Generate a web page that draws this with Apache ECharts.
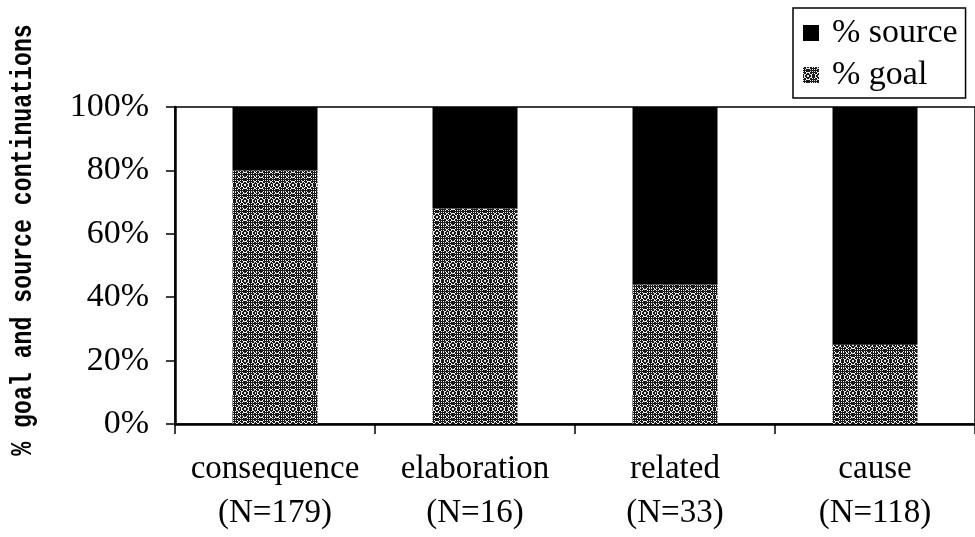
<!DOCTYPE html>
<html>
<head>
<meta charset="utf-8">
<style>
  html, body { margin: 0; padding: 0; background: #fff; }
  #chart { width: 975px; height: 537px; }
</style>
<script src="https://cdn.jsdelivr.net/npm/echarts@6/dist/echarts.min.js"></script>
</head>
<body>
<div id="chart"></div>
<script>
// Relation types and number of continuations per type
const categories = ['consequence', 'elaboration', 'related', 'cause'];
const counts = [179, 16, 33, 118];
// Percentage of goal and source continuations
const goalPct = [80, 68, 44, 25];
const sourcePct = [20, 32, 56, 75];
const yTicks = [0, 20, 40, 60, 80, 100];

// Speckled halftone fill for the goal bars
function speckle() {
  const c = document.createElement('canvas');
  c.width = 16; c.height = 16;
  const ctx = c.getContext('2d');
  ctx.fillStyle = '#1a1a1a';
  ctx.fillRect(0, 0, 16, 16);
  ctx.fillStyle = '#e8e8e8';
  for (let y = 0; y < 16; y++) {
    for (let x = 0; x < 16; x++) {
      const h = (x * 37 + y * 61 + x * y * 17) % 11;
      if (h < 4) ctx.fillRect(x, y, 1, 1);
    }
  }
  return c;
}
const goalFill = { image: speckle(), repeat: 'repeat' };

const serif = '"Liberation Serif", "Times New Roman", serif';

const chart = echarts.init(document.getElementById('chart'), null, { renderer: 'canvas' });
chart.setOption({
  animation: false,
  backgroundColor: '#fff',
  grid: {
    left: 175, right: -8, top: 107, bottom: 113,
    show: true, borderColor: '#000', borderWidth: 1.5, backgroundColor: 'transparent'
  },
  legend: {
    orient: 'vertical',
    left: 793, top: 8,
    padding: [8, 8, 6, 10],
    itemGap: 8,
    itemWidth: 16, itemHeight: 16,
    icon: 'rect',
    borderColor: '#000', borderWidth: 1.5,
    backgroundColor: '#fff',
    textStyle: { fontFamily: serif, fontSize: 34, color: '#000', padding: [0, 0, 0, 8] },
    data: ['% source', '% goal']
  },
  xAxis: {
    type: 'category',
    data: categories,
    boundaryGap: true,
    axisLine: { lineStyle: { color: '#000', width: 2.5 } },
    axisTick: { show: true, interval: 0, inside: false, length: 10, lineStyle: { color: '#000', width: 1.5 } },
    axisLabel: {
      interval: 0,
      margin: 23,
      fontFamily: serif, fontSize: 33, color: '#000', lineHeight: 44,
      formatter: (v, i) => v + '\n(N=' + counts[i] + ')'
    }
  },
  yAxis: {
    type: 'value',
    min: 0, max: 100, interval: 20,
    axisLine: { show: true, lineStyle: { color: '#000', width: 2.5 } },
    axisTick: { show: true, length: 9, lineStyle: { color: '#000', width: 1.5 } },
    splitLine: { show: false },
    axisLabel: {
      margin: 26,
      fontFamily: serif, fontSize: 34, color: '#000',
      formatter: v => (yTicks.indexOf(v) >= 0 ? v + '%' : '')
    }
  },
  graphic: [{
    type: 'text',
    x: 24, y: 240,
    rotation: Math.PI / 2,
    scaleX: 0.8,
    style: {
      text: '% goal and source continuations',
      fontFamily: '"Liberation Mono", "Courier New", monospace',
      fontWeight: 'bold',
      fontSize: 29,
      fill: '#000',
      align: 'center',
      verticalAlign: 'middle'
    }
  }],
  series: [
    {
      name: '% goal',
      type: 'bar',
      stack: 'total',
      barWidth: 85,
      data: goalPct,
      itemStyle: { color: goalFill }
    },
    {
      name: '% source',
      type: 'bar',
      stack: 'total',
      barWidth: 85,
      data: sourcePct,
      itemStyle: { color: '#000' }
    }
  ]
});
</script>
</body>
</html>
